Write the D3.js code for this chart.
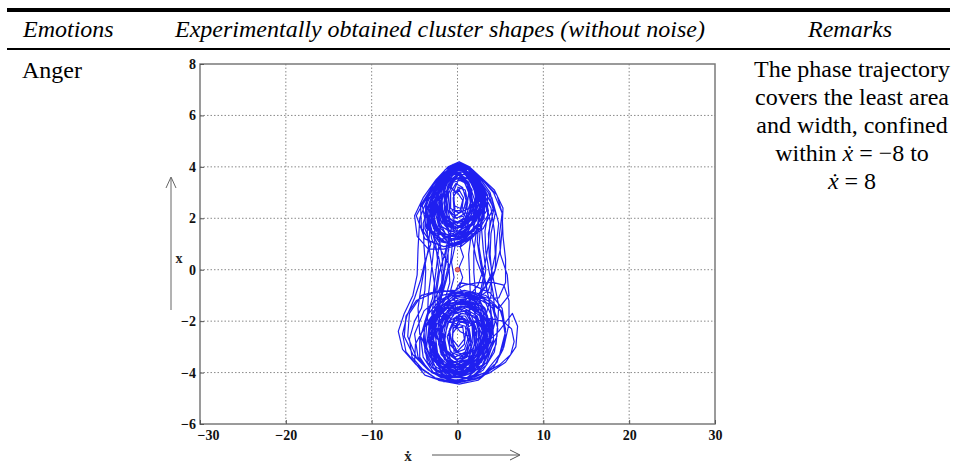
<!DOCTYPE html>
<html>
<head>
<meta charset="utf-8">
<script src="https://cdn.jsdelivr.net/npm/d3@7"></script>
<style>
  html, body { margin: 0; padding: 0; background: #ffffff; }
  svg { display: block; }
</style>
</head>
<body>
<svg id="chart" width="957" height="465"></svg>
<script>
// Table headings and row text
const headings = ["Emotions", "Experimentally obtained cluster shapes (without noise)", "Remarks"];
const emotion = "Anger";
const remarkLines = ["The phase trajectory", "covers the least area", "and width, confined"];

// Axis ticks
const xTicks = [-30, -20, -10, 0, 10, 20, 30];
const yTicks = [-6, -4, -2, 0, 2, 4, 6, 8];

// Equilibrium point marked at the origin
const centre = [0, 0];

// Phase trajectory, [xdot, x] pairs, drawn as one continuous path in run order
const run1 = [
  [0.1,1.5],[1.8,2.0],[2.4,2.8],[1.6,3.6],[0.0,3.95],[-1.7,3.5],[-2.4,2.6],[-1.5,1.8],
  [0.2,1.4],[2.1,1.9],[2.8,2.7],[1.8,3.6],[0.2,4.05],[-1.7,3.6],[-2.8,2.6],[-1.9,1.7],
  [0.3,1.2],[2.6,1.7],[3.3,2.6],[2.1,3.5],[0.1,4.1],[-2.0,3.6],[-3.3,2.5],[-2.6,1.5],
  [-2.8,0.7],[-3.1,-0.2],[-3.4,-1.0],[-3.5,-1.9],[-2.9,-2.9],[-1.5,-3.7],[0.2,-4.05],
  [2.3,-3.6],[3.4,-2.7],[3.0,-1.8],[1.3,-1.3],[-0.9,-1.4],[-2.7,-2.0],[-3.3,-2.9],[-2.2,-3.7],
  [0.1,-4.0],[2.5,-3.7],[3.7,-2.6],[3.3,-1.6],[1.5,-1.1],[-1.0,-1.2],[-3.0,-1.9],[-3.7,-3.0],[-2.4,-3.9],
  [0.3,-4.2],[2.8,-3.8],[4.2,-2.7],[3.9,-1.6],
  [3.4,-0.7],[2.9,0.1],[2.5,0.9],[2.7,1.8]
];
const run2 = [
  [3.1,2.7],[1.9,3.6],[0.1,4.1],[-1.8,3.6],[-3.0,2.6],[-2.1,1.7],
  [0.0,1.4],[1.5,2.0],[2.0,2.7],[1.3,3.4],[-0.1,3.8],[-1.4,3.4],[-2.0,2.6],[-1.2,1.9],
  [0.2,1.7],[1.6,2.1],[2.2,2.9],[1.4,3.6],[0.0,4.0],[-1.4,3.6],[-2.3,2.8],[-1.6,2.0],
  [0.0,1.6],[2.0,2.0],[2.7,2.9],[1.5,3.7],[0.1,4.1],[-1.5,3.7],[-3.1,2.8],[-3.2,1.8],
  [-2.5,0.9],[-2.2,0.0],[-2.6,-0.9],[-3.0,-1.7],[-2.5,-2.6],[-1.1,-3.4],[0.5,-3.8],
  [2.1,-3.4],[3.0,-2.6],[2.6,-1.8],[1.1,-1.4],[-0.8,-1.5],[-2.4,-2.1],[-2.9,-2.9],[-1.9,-3.6],
  [0.0,-3.9],[2.2,-3.5],[3.2,-2.5],[2.8,-1.7],[1.0,-1.3],[-1.1,-1.4],[-2.8,-2.1],[-3.2,-3.1],[-2.0,-3.9],
  [0.4,-4.1],[3.0,-3.7],[4.6,-2.6],[4.8,-1.4],
  [4.2,-0.4],[3.7,0.5],[3.6,1.4],[4.2,2.3]
];
const run3 = [
  [3.6,3.0],[2.0,3.7],[0.3,4.15],[-1.8,3.7],[-3.6,2.7],[-3.4,1.6],
  [-1.5,1.1],[0.6,1.2],[2.4,1.8],[3.0,2.6],[2.0,3.4],[0.3,3.9],[-1.5,3.5],[-2.6,2.7],[-1.9,1.9],
  [-0.2,1.6],[1.7,2.0],[2.5,2.8],[1.5,3.6],[0.0,4.0],[-1.5,3.6],[-2.6,2.7],[-1.7,1.9],
  [0.1,1.5],[2.2,1.9],[3.0,2.7],[1.8,3.6],[0.0,4.05],[-1.8,3.5],[-3.0,2.4],[-2.2,1.4],
  [-1.8,0.5],[-1.6,-0.3],[-2.0,-1.1],[-2.6,-1.8],[-2.8,-2.7],[-2.0,-3.6],[-0.3,-4.1],
  [1.9,-3.8],[3.2,-3.0],[3.1,-2.0],[1.8,-1.3],[-0.3,-1.1],[-2.3,-1.6],[-3.4,-2.5],[-3.0,-3.4],[-1.4,-4.0],
  [0.6,-4.05],[2.6,-3.6],[3.5,-2.7],[3.0,-1.8],[1.2,-1.4],[-0.9,-1.6],[-2.4,-2.3],[-2.6,-3.1],[-1.5,-3.7],
  [0.3,-3.8],[1.9,-3.4],[2.6,-2.6],[2.1,-1.9],[0.7,-1.6],[-1.0,-1.8],[-2.1,-2.5],[-1.9,-3.3],[-0.6,-3.7],
  [1.5,-3.7],[3.0,-3.2],[4.0,-2.4],[3.8,-1.3],
  [3.1,-0.4],[2.2,0.4],[1.7,1.2],[2.0,2.0]
];
const run4 = [
  [2.6,2.8],[1.6,3.6],[0.0,4.0],[-1.9,3.6],[-3.5,2.9],[-4.8,2.1],[-3.8,1.2],
  [-1.6,0.9],[0.9,1.1],[3.0,1.6],[4.2,2.4],[2.8,3.3],[1.2,3.9],[-0.5,4.1],[-2.0,3.6],[-3.3,2.6],[-2.8,1.6],
  [-0.9,1.3],[1.4,1.6],[2.6,2.4],[2.0,3.3],[0.6,3.9],[-1.2,3.7],[-2.2,3.0],[-2.0,2.2],[-0.8,1.8],
  [0.8,1.9],[1.8,2.5],[1.5,3.2],[0.2,3.6],[-1.1,3.3],[-1.6,2.6],[-1.1,2.0],
  [0.4,1.8],[2.3,2.2],[3.1,3.0],[1.6,3.8],[0.3,4.15],[-1.4,3.8],[-3.2,3.0],[-4.4,2.0],
  [-4.6,0.8],[-4.7,-0.2],[-5.2,-1.0],[-6.2,-1.7],[-6.9,-2.4],[-6.4,-3.1],[-4.8,-3.7],[-2.6,-4.2],[0.0,-4.4],
  [2.6,-4.2],[4.6,-3.6],[5.6,-2.6],[5.1,-1.6],[3.3,-1.0],[0.8,-0.8],[-1.8,-1.0],[-3.9,-1.6],[-5.0,-2.5],[-4.6,-3.4],[-3.0,-4.0],
  [-0.5,-4.2],[1.8,-4.0],[3.4,-3.3],[3.9,-2.4],[3.2,-1.5],[1.4,-1.2],[-0.6,-1.3],[-2.4,-1.9],[-3.0,-2.8],[-2.3,-3.6],
  [-0.4,-3.9],[1.6,-3.6],[2.7,-2.8],[2.4,-2.0],[1.0,-1.6],[-0.7,-1.7],[-1.9,-2.4],[-1.8,-3.2],[-0.5,-3.6],
  [1.2,-3.5],[2.0,-2.9],[1.9,-2.2],[0.8,-1.9],[-0.4,-2.0],[-1.2,-2.6],[-0.8,-3.2],[0.6,-3.4],
  [2.4,-3.3],[3.8,-2.8],[4.4,-2.0],[4.2,-1.0],
  [3.7,-0.1],[3.3,0.7],[3.2,1.5],[3.6,2.3]
];
const run5 = [
  [2.9,3.2],[1.3,3.9],[0.0,4.1],[-1.5,3.7],[-2.7,2.9],[-2.2,2.0],[-0.9,1.5],
  [0.9,1.5],[2.3,2.0],[2.8,2.8],[1.8,3.5],[0.4,3.9],[-1.2,3.7],[-2.2,3.0],[-1.9,2.2],[-0.6,1.7],
  [1.1,1.7],[2.1,2.3],[2.1,3.1],[0.9,3.7],[-0.6,3.8],[-1.6,3.3],[-1.5,2.5],[-0.4,2.0],
  [1.0,2.1],[1.6,2.7],[1.1,3.4],[-0.2,3.6],[-1.1,3.1],[-0.9,2.4],[0.2,2.2],
  [1.4,2.4],[1.7,3.1],[0.8,3.6],[-0.4,3.5],
  [-1.5,3.4],[-2.6,2.7],[-3.2,1.7],
  [-3.4,0.8],[-3.9,0.0],[-4.3,-0.8],[-4.6,-1.5],[-4.4,-2.5],[-3.2,-3.4],[-1.3,-3.9],[0.7,-4.05],
  [2.8,-3.6],[3.8,-2.8],[3.6,-1.9],[2.1,-1.3],[0.0,-1.2],[-2.0,-1.6],[-3.3,-2.4],[-3.2,-3.3],[-1.9,-3.9],
  [0.0,-4.1],[2.0,-3.9],[3.3,-3.2],[3.5,-2.3],[2.4,-1.6],[0.4,-1.4],[-1.5,-1.7],[-2.6,-2.5],[-2.3,-3.3],[-0.9,-3.8],
  [0.9,-3.8],[2.3,-3.3],[2.8,-2.5],[2.0,-1.8],[0.5,-1.7],[-1.0,-2.0],[-1.7,-2.8],[-1.1,-3.5],[0.4,-3.7],
  [1.8,-3.4],[2.3,-2.7],[1.7,-2.1],[0.4,-2.0],[-0.6,-2.5],[-0.4,-3.2],[0.9,-3.3],
  [2.9,-3.0],[4.8,-2.4],[6.4,-1.7],[7.0,-2.2],[6.8,-3.0],[5.6,-3.6],[3.8,-4.0],[1.5,-4.3],[-0.8,-4.3],
  [-3.0,-4.0],[-4.8,-3.4],[-5.8,-2.6],[-5.6,-1.7],[-4.2,-1.0],[-2.0,-0.8],[0.5,-0.9],[2.8,-1.2],
  [4.8,-1.5],[6.0,-1.0],
  [5.8,-0.2],[5.0,0.6],[4.9,1.4],[5.2,2.2]
];
const run6 = [
  [4.6,2.9],[3.2,3.4],[1.7,3.8],[0.3,4.15],[-1.1,3.9],[-2.6,3.3],[-4.1,2.5],[-3.6,1.6],[-2.0,1.2],
  [0.0,1.2],[2.0,1.6],[3.4,2.3],[3.0,3.1],[1.8,3.7],[0.2,4.0],[-1.5,3.7],[-2.8,3.0],[-3.0,2.1],[-1.9,1.4],
  [-0.3,1.3],[1.6,1.7],[2.8,2.5],[2.3,3.3],[1.0,3.8],[-0.5,3.9],[-1.9,3.4],[-2.6,2.5],[-1.8,1.8],
  [-0.2,1.6],[1.4,2.0],[2.3,2.7],[1.8,3.4],[0.6,3.8],[-0.8,3.7],[-1.9,3.1],[-2.0,2.3],
  [-1.3,1.7],[-0.6,1.0],[-0.8,0.3],[-1.3,-0.4],[-1.9,-1.1],[-2.3,-1.9],[-2.1,-2.8],[-1.2,-3.6],[0.2,-4.0],
  [1.8,-3.9],[3.0,-3.3],[3.4,-2.4],[2.7,-1.6],[1.2,-1.1],[-0.7,-1.0],[-2.4,-1.4],[-3.6,-2.2],[-3.8,-3.1],[-2.8,-3.8],
  [-1.0,-4.2],[1.1,-4.2],[2.9,-3.7],[3.9,-2.9],[3.8,-2.0],[2.6,-1.4],[0.6,-1.2],[-1.4,-1.4],[-2.9,-2.1],[-3.3,-3.0],[-2.4,-3.7],
  [-0.6,-4.0],[1.3,-3.9],[2.6,-3.3],[3.0,-2.5],[2.3,-1.8],[0.8,-1.5],[-0.9,-1.7],[-2.0,-2.4],[-2.0,-3.2],[-0.9,-3.7],
  [0.7,-3.7],[2.0,-3.2],[2.3,-2.4],[1.4,-1.9],
  [1.5,-1.0],[1.4,-0.2],[1.3,0.6],[1.6,1.4],[2.3,2.1],[2.2,3.0],[1.2,3.7],[0.0,4.0]
];
const run7 = [
  [-1.2,3.6],[-2.4,2.9],[-2.3,2.0],[-1.4,1.4],[0.2,1.2],[1.9,1.5],[3.1,2.2],[3.0,3.0],[2.0,3.6],[0.5,4.0],[-0.9,3.9],[-2.3,3.3],[-3.4,2.4],[-3.1,1.5],
  [-2.0,0.8],[-1.0,0.2],[-0.9,-0.5],[-1.5,-1.2],[-2.5,-1.7],[-3.8,-2.2],[-4.9,-2.9],[-5.0,-3.6],[-3.8,-4.1],[-1.6,-4.35],[0.9,-4.35],[3.2,-4.0],[4.9,-3.3],[5.6,-2.4],[5.2,-1.5],[3.8,-0.9],[1.8,-0.6],
  [0.3,-0.5],[-0.4,-0.9],[-0.2,-1.6],[0.8,-2.0],[2.2,-2.0],[3.1,-2.4],[3.0,-3.0],[1.9,-3.5],[0.2,-3.6],[-1.4,-3.2],[-2.2,-2.5],[-1.8,-1.8],[-0.6,-1.5],
  [1.0,-1.4],[2.6,-1.7],[3.4,-2.5],[3.0,-3.4],[1.6,-3.9],[-0.3,-4.0],[-2.1,-3.6],[-3.0,-2.8],[-2.8,-2.0],[-1.7,-1.5],
  [0.1,-1.3],[2.0,-1.2],[3.6,-0.8],[4.4,0.0],[4.5,0.9],[4.8,1.8],[4.0,2.8],[2.5,3.5],[1.0,4.0],[-0.3,4.1],[-1.8,3.7],[-3.2,3.0],[-3.8,2.2],[-3.0,1.5],
  [-1.5,1.3],[0.3,1.4],[2.0,1.8],[2.7,2.6],[2.0,3.4],[0.6,3.8],[-1.0,3.7],[-1.9,3.0],[-1.7,2.2],[-0.6,1.8],
  [0.9,1.9],[1.8,2.6],[1.4,3.3],[0.1,3.5],[-0.5,3.0],[-0.3,2.4],
  [-0.5,1.6],[-0.3,0.9],[-0.7,0.3],[-0.4,-0.3],[-0.8,-0.8],[-1.2,-1.3],[-0.8,-2.0],[0.3,-2.4],[1.4,-2.6],[1.6,-3.1],[0.7,-3.4]
];
const run8 = [
  [-0.6,-3.0],[-0.9,-2.4],[-0.3,-1.9],[0.8,-1.9],[1.4,-2.5],[1.1,-3.2],[0.0,-3.5],[-1.2,-3.2],[-1.6,-2.5],[-1.2,-1.8],
  [0.0,-1.5],[1.4,-1.6],[2.2,-2.3],[2.1,-3.1],[1.0,-3.7],[-0.5,-3.8],[-1.9,-3.3],[-2.4,-2.5],[-2.0,-1.7],[-0.8,-1.3],[0.9,-1.2],
  [2.4,-0.6],[3.2,0.2],[3.6,1.0],[3.8,1.9],[3.2,2.8],[2.0,3.5],[0.7,3.9],[-0.7,3.9],[-1.8,3.4],[-2.8,2.6],[-2.6,1.8],[-1.6,1.3],
  [-0.2,1.2],[1.2,1.5],[2.1,2.1],[2.2,2.9],[1.4,3.5],[0.2,3.7],[-0.9,3.4],[-1.4,2.8],[-1.2,2.1],[-0.3,1.8],[0.7,2.0],[1.2,2.6],
  [0.9,3.1],[0.1,3.2],[-0.5,2.8],[-0.4,2.3],[0.3,2.3],[0.6,2.7],
  [0.0,3.0],[-0.9,3.2],[-1.8,2.9],[-2.3,2.2],[-2.0,1.5],[-1.0,1.0],[0.4,0.9],[1.9,1.3],[3.0,2.0],[3.3,2.9],[2.3,3.6],[1.0,4.0],
  [0.0,4.15],[-1.1,3.9],[-2.5,3.2],[-3.6,2.3],[-3.5,1.3],
  [-3.1,0.4],[-2.7,-0.5],[-2.6,-1.4],[-3.0,-2.3],[-2.6,-3.2],[-1.4,-3.8],[0.3,-4.0],[2.0,-3.7],[3.2,-3.0],[3.4,-2.1],[2.7,-1.4],
  [1.3,-1.0],[-0.4,-0.9],[-2.1,-1.2],[-3.6,-1.8],[-4.3,-2.6],[-4.0,-3.4],[-2.8,-4.0],[-1.0,-4.3],[1.1,-4.3],[3.0,-3.9],[4.3,-3.2],
  [4.7,-2.3],[4.1,-1.5],[2.8,-1.1],[1.1,-0.9],[-0.5,-1.1],[-1.6,-1.6],[-1.9,-2.4],[-1.4,-3.1],[-0.3,-3.4],[0.9,-3.2],[1.5,-2.6],
  [1.2,-2.0],[0.3,-1.8],[-0.5,-2.1],[-0.6,-2.7],[0.1,-3.0],[0.8,-2.7],[0.6,-2.2],[-0.2,-2.3]
];
const run9 = [
  [0.4,-1.6],[1.8,-1.2],[3.0,-0.8],[3.9,-0.2],[4.4,0.6],[4.3,1.5],[3.9,2.4],[2.7,3.2],[1.2,3.8],[-0.3,4.0],[-1.7,3.6],[-3.0,2.9],
  [-3.4,2.0],[-3.0,1.2],[-2.2,0.5],[-1.8,-0.2],[-1.9,-0.9],[-2.4,-1.5],[-3.4,-2.0],[-4.4,-2.6],[-4.4,-3.4],[-3.4,-3.9],[-1.9,-4.2],
  [0.0,-4.3],[1.9,-4.1],[3.4,-3.6],[4.2,-2.8],[4.1,-1.9],[3.3,-1.3],[1.9,-1.0],[0.2,-0.9],[-1.5,-1.1],[-2.8,-1.6],[-3.4,-2.4],
  [-3.1,-3.2],[-2.0,-3.8],[-0.5,-4.0],[1.1,-3.9],[2.5,-3.4],[3.1,-2.6],[2.8,-1.8],[1.8,-1.3],[0.4,-1.2],[-1.0,-1.5],[-2.0,-2.1],
  [-2.2,-2.9],[-1.5,-3.5],[-0.2,-3.7],[1.2,-3.5],[2.0,-2.9],[2.0,-2.2],[1.2,-1.7],
  [2.1,-0.9],[1.9,-0.1],[1.9,0.7],[2.2,1.5],[2.6,2.3],[2.2,3.1],[1.3,3.7],[0.1,4.0],[-1.2,3.8],[-2.2,3.2],[-2.7,2.4],[-2.2,1.7],
  [-1.1,1.3],[0.3,1.3],[1.6,1.7],[2.3,2.4],[1.9,3.2],[0.9,3.7],[-0.5,3.7],[-1.5,3.2],[-1.9,2.5],[-1.4,1.9],[-0.4,1.6],[0.8,1.7],
  [1.6,2.3],[1.5,3.0],[0.6,3.5],[-0.5,3.4],[-1.1,2.9],[-0.9,2.3],[-0.1,2.0],[0.9,2.2],[1.1,2.8],[0.5,3.2],[-0.3,3.0],
  [-1.1,3.4],[-2.2,3.1],[-3.3,2.6],[-4.0,1.8],[-3.9,0.9],
  [-3.7,0.0],[-3.8,-0.8],[-4.2,-1.5],[-5.0,-2.0],[-5.6,-2.7],[-5.3,-3.4],[-4.0,-3.9],[-2.2,-4.3],[0.2,-4.45],[2.4,-4.3],[4.2,-3.8],
  [5.4,-3.0],[6.0,-2.1],[6.0,-1.2],[5.4,-0.6],[4.2,-0.5],[2.4,-0.5],[0.8,-0.6],[-0.8,-0.9],[-2.3,-1.4],[-3.3,-2.1],[-3.6,-3.0],
  [-2.8,-3.7],[-1.2,-4.1],[0.6,-4.1],[2.3,-3.8],[3.5,-3.1],[3.8,-2.2],[3.2,-1.5],[2.0,-1.1]
];
const run10 = [
  [3.4,-0.6],[4.4,0.0],[5.0,0.8],[5.2,1.6],[5.3,2.4],[4.3,3.1],[2.7,3.6],[1.4,4.0],[0.2,4.2],[-1.1,4.0],[-2.5,3.5],[-4.0,2.8],
  [-5.0,2.1],[-4.7,1.3],[-3.4,0.8],[-1.6,0.8],[0.4,1.0],[2.2,1.4],[3.5,2.1],[3.5,2.9],[2.4,3.6],[1.1,4.0],[0.0,4.1],[-1.3,3.8],
  [-2.7,3.1],[-3.6,2.3],[-3.3,1.6],[-2.2,1.1],[-0.7,1.0],[0.9,1.2],[2.3,1.7],[3.0,2.5],[2.5,3.3],[1.3,3.8],[-0.1,3.9],[-1.3,3.6],
  [-2.5,2.9],[-2.8,2.1],[-2.3,1.5],[-1.2,1.1],
  [-1.4,0.4],[-1.6,-0.3],[-2.3,-0.9],[-3.2,-1.5],[-3.9,-2.3],[-3.8,-3.2],[-3.0,-3.8],[-1.6,-4.1],[0.1,-4.2],[1.8,-4.0],[3.1,-3.4],
  [3.7,-2.6],[3.5,-1.8],[2.6,-1.2],[1.2,-1.0],[-0.4,-1.0],[-1.8,-1.4],[-2.8,-2.0],[-3.1,-2.8],[-2.6,-3.5],[-1.4,-3.9],[0.1,-4.0],
  [1.6,-3.8],[2.7,-3.2],[3.1,-2.4],[2.6,-1.7],[1.5,-1.3],[0.1,-1.3],[-1.2,-1.6],[-2.0,-2.3],[-2.0,-3.0],[-1.3,-3.5],[-0.1,-3.6],
  [1.1,-3.4],[1.8,-2.8],[1.7,-2.2],[0.9,-1.8],[-0.1,-1.8],[-0.9,-2.3],[-0.9,-2.9],[-0.1,-3.2],[0.8,-2.9],[1.0,-2.3],
  [2.2,-2.0],[3.8,-1.9],[5.3,-2.0],[6.3,-2.3],[6.6,-2.8],[6.2,-3.3],[4.9,-3.7],[3.3,-4.0],[1.2,-4.2],[-1.2,-4.2],[-3.4,-3.9],
  [-5.2,-3.3],[-6.2,-2.6],[-6.0,-1.8],[-4.8,-1.2],[-2.8,-0.9],[-0.6,-0.8],[1.6,-0.9],[3.4,-1.1],[4.8,-1.1],[5.6,-0.5],[5.6,0.4],
  [5.3,1.3],[5.2,2.2],[4.2,3.0],[2.6,3.6],[1.2,4.0],[-0.1,4.15],[-1.4,3.9],[-2.8,3.3],[-4.3,2.5],[-4.2,1.6],[-3.2,1.1],[-1.6,0.9],
  [0.2,1.0],[1.9,1.4],[3.1,2.0],[3.2,2.8],[2.3,3.5],[1.2,3.9],[-0.2,4.0],[-1.4,3.7],[-2.7,3.0],[-3.1,2.2],[-2.5,1.6],[-1.4,1.3],
  [0.0,1.3],[1.3,1.6],[2.2,2.2],[2.2,3.0],[1.5,3.6],[0.4,3.9],[-0.8,3.8],[-1.7,3.3],[-2.2,2.6],[-1.8,2.0],[-0.9,1.7],[0.3,1.7],
  [1.3,2.1],[1.7,2.8],[1.2,3.4],[0.2,3.7],[-0.8,3.5],[-1.3,2.9],[-1.1,2.3],[-0.3,2.1],
  [-0.9,1.4],[-1.5,0.6],[-2.1,-0.1],[-2.4,-0.8],[-2.3,-1.6],[-1.8,-2.4],[-1.2,-3.2]
];
const run11 = [
  [-0.2,-3.9],[1.3,-3.8],[2.5,-3.2],[2.9,-2.3],[2.4,-1.5],
  [2.9,-0.8],[3.3,0.0],[3.0,0.8],[2.8,1.6],[3.0,2.4],[2.2,3.3],[0.9,3.9],[-0.5,4.0],[-1.7,3.6],[-2.9,2.8],[-2.9,1.9],[-2.1,1.2],
  [-2.3,0.5],[-2.6,-0.3],[-2.9,-1.1],[-3.6,-1.8],[-4.0,-2.7],[-3.5,-3.6],[-2.1,-4.1],[-0.3,-4.3],[1.6,-4.2],[3.4,-3.7],[4.5,-2.9],
  [4.7,-2.0],[4.0,-1.3],[2.6,-1.0],[1.0,-1.1],
  [0.2,-0.7],[0.6,-0.3],[0.2,0.1],[0.7,0.5],[0.3,0.9],[1.0,1.3],[1.8,1.9],[2.0,2.7],[1.3,3.4],[0.0,3.7],[-1.2,3.4],[-1.8,2.7],
  [-1.6,2.0],[-0.9,1.5],
  [-1.1,0.8],[-1.1,0.1],[-1.6,-0.6],[-2.0,-1.3],[-2.7,-1.9],[-3.0,-2.7],[-2.6,-3.4],[-1.6,-3.9],[-0.1,-4.1],[1.5,-3.9],[2.8,-3.4],
  [3.5,-2.6],[3.3,-1.8],
  [3.9,-1.0],[4.0,-0.2],[3.8,0.6],[3.9,1.4],[4.4,2.2],[3.8,3.0],[2.5,3.6],[1.2,4.0],[0.1,4.15],[-1.1,3.9],[-2.4,3.3],[-3.7,2.5],
  [-3.8,1.6],[-3.1,1.0],
  [-3.8,0.3],[-4.3,-0.4],[-5.0,-1.1],[-5.9,-1.8],[-6.4,-2.5],[-6.0,-3.2],[-4.5,-3.8],[-2.4,-4.25],[0.0,-4.4],[2.3,-4.25],[4.2,-3.8],
  [5.3,-3.1],[5.6,-2.3],[5.0,-1.6],[3.6,-1.2],[1.7,-1.0],[-0.2,-1.1],[-1.9,-1.4],[-3.0,-2.0],[-3.4,-2.8],[-2.9,-3.5],[-1.6,-3.9],
  [0.0,-3.9],[1.5,-3.6],[2.4,-2.9],[2.5,-2.1],[1.8,-1.5],
  [2.6,-1.0],[3.0,-0.3],[2.6,0.4],[2.3,1.1],[2.5,1.9],[2.8,2.7],[1.9,3.5],[0.7,4.0],[-0.7,4.0],[-1.8,3.5],[-3.1,2.7],[-3.0,1.8],
  [-2.3,1.2],[-1.0,1.0],[0.5,1.1],[1.7,1.5],[2.4,2.2]
];
const run12 = [
  [0.6,2.2],[1.0,2.7],[0.6,3.2],[-0.2,3.35],[-0.8,3.0],[-0.8,2.4],[-0.2,2.1],[0.5,2.3],[0.7,2.8],[0.2,3.1],[-0.4,2.9],
  [-0.4,2.5],[0.2,2.4],[1.1,2.4],[1.3,3.0],[0.7,3.5],[-0.3,3.6],[-1.1,3.2],[-1.3,2.6],[-0.9,2.0],[0.0,1.8],[0.9,2.0],
  [1.5,2.6],[1.2,3.3],[0.3,3.8],[-0.8,3.7],[-1.5,3.1],[-1.5,2.3],[-0.7,1.7],
  [-0.9,1.0],[-1.3,0.3],[-1.8,-0.4],[-2.2,-1.1],[-2.0,-1.8],[-1.2,-2.0],
  [0.9,-2.2],[1.2,-2.7],[0.8,-3.1],[0.0,-3.2],[-0.6,-2.8],[-0.5,-2.3],[0.2,-2.0],[1.0,-2.1],[1.5,-2.8],[1.0,-3.4],
  [-0.1,-3.5],[-0.9,-3.1],[-1.0,-2.4],[-0.4,-1.9],[0.5,-1.8],[1.3,-2.2],[1.7,-2.9],[1.2,-3.6],[0.0,-3.8],[-1.1,-3.5],
  [-1.5,-2.8],[-1.2,-2.1],[-0.3,-1.7],[0.8,-1.6],[1.7,-2.1],[2.0,-2.8],[1.6,-3.5],[0.6,-3.9],[-0.7,-3.9],[-1.6,-3.4],
  [-1.9,-2.6],[-1.4,-1.9],[-0.4,-1.5],[0.6,-1.4]
];
const runs = [run1, run2, run3, run4, run5, run6, run7, run8, run9, run10, run11, run12];

const svg = d3.select("#chart");
const serif = "'Liberation Serif', 'Times New Roman', serif";
const textSize = 24;

// Table rules
svg.append("rect").attr("x", 7).attr("y", 8).attr("width", 943).attr("height", 4).attr("fill", "#000");
svg.append("rect").attr("x", 7).attr("y", 48).attr("width", 943).attr("height", 2).attr("fill", "#000");

// Column headings
const headX = [23, 175, 850];
const headAnchor = ["start", "start", "middle"];
svg.selectAll("text.head").data(headings).join("text")
  .attr("class", "head")
  .attr("x", (d, i) => headX[i])
  .attr("y", 37)
  .attr("text-anchor", (d, i) => headAnchor[i])
  .attr("font-family", serif).attr("font-style", "italic").attr("font-size", textSize)
  .attr("fill", "#000")
  .text(d => d);

svg.append("text").attr("x", 22).attr("y", 78)
  .attr("font-family", serif).attr("font-size", textSize).attr("fill", "#000")
  .text(emotion);

// Remarks column
const remarkX = 852;
svg.selectAll("text.remark").data(remarkLines).join("text")
  .attr("class", "remark")
  .attr("x", remarkX).attr("y", (d, i) => 77 + i * 28)
  .attr("text-anchor", "middle")
  .attr("font-family", serif).attr("font-size", textSize).attr("fill", "#000")
  .text(d => d);

const eq1 = svg.append("text").attr("x", remarkX).attr("y", 161)
  .attr("text-anchor", "middle").attr("font-family", serif).attr("font-size", textSize).attr("fill", "#000");
eq1.append("tspan").text("within  ");
eq1.append("tspan").attr("font-style", "italic").text("x\u0307");
eq1.append("tspan").text(" = \u22128  to");

const eq2 = svg.append("text").attr("x", remarkX).attr("y", 189)
  .attr("text-anchor", "middle").attr("font-family", serif).attr("font-size", textSize).attr("fill", "#000");
eq2.append("tspan").attr("font-style", "italic").text("x\u0307");
eq2.append("tspan").text(" = 8");

// Phase-plane axes
const plotLeft = 200, plotRight = 715, plotTop = 64, plotBottom = 424;
const x = d3.scaleLinear().domain([-30, 30]).range([plotLeft, plotRight]);
const y = d3.scaleLinear().domain([-6, 8]).range([plotBottom, plotTop]);

const plot = svg.append("g");

// Dotted grid
plot.selectAll("line.gx").data(xTicks.slice(1, -1)).join("line")
  .attr("x1", d => x(d)).attr("x2", d => x(d)).attr("y1", plotTop).attr("y2", plotBottom)
  .attr("stroke", "#8a8a8a").attr("stroke-width", 1).attr("stroke-dasharray", "1.5,2");
plot.selectAll("line.gy").data(yTicks.slice(1, -1)).join("line")
  .attr("x1", plotLeft).attr("x2", plotRight).attr("y1", d => y(d)).attr("y2", d => y(d))
  .attr("stroke", "#8a8a8a").attr("stroke-width", 1).attr("stroke-dasharray", "1.5,2");

// Trajectory
const line = d3.line().x(d => x(d[0])).y(d => y(d[1]));
plot.append("path")
  .datum(runs.flat())
  .attr("d", line)
  .attr("fill", "none")
  .attr("stroke", "#1f1ff0")
  .attr("stroke-width", 1.2)
  .attr("stroke-linejoin", "round");

// Equilibrium marker
plot.append("circle")
  .attr("cx", x(centre[0])).attr("cy", y(centre[1])).attr("r", 2.3)
  .attr("fill", "#e87070").attr("stroke", "#c83030").attr("stroke-width", 0.8);

// Axis box
plot.append("rect").attr("x", plotLeft).attr("y", plotTop)
  .attr("width", plotRight - plotLeft).attr("height", plotBottom - plotTop)
  .attr("fill", "none").attr("stroke", "#7a7a7a").attr("stroke-width", 1.5);

// Tick labels via axes
const xAxis = svg.append("g").attr("transform", `translate(0,${plotBottom})`)
  .call(d3.axisBottom(x).tickValues(xTicks).tickSize(-4).tickPadding(6).tickFormat(d3.format("d")));
const yAxis = svg.append("g").attr("transform", `translate(${plotLeft},0)`)
  .call(d3.axisLeft(y).tickValues(yTicks).tickSize(-4).tickPadding(4).tickFormat(d3.format("d")));
[xAxis, yAxis].forEach(g => {
  g.select(".domain").remove();
  g.selectAll(".tick line").attr("stroke", "#555");
  g.selectAll(".tick text")
    .attr("font-family", serif).attr("font-weight", "bold").attr("font-size", 14)
    .attr("fill", "#111");
});
// first x label sits just inside the corner, clear of the y labels
xAxis.selectAll(".tick text").filter(d => d === xTicks[0]).attr("dx", 8);

// Axis names with direction arrows
svg.append("text").attr("x", 408).attr("y", 461).attr("text-anchor", "middle")
  .attr("font-family", serif).attr("font-weight", "bold").attr("font-size", 15).attr("fill", "#222")
  .text("x\u0307");
svg.append("line").attr("x1", 432).attr("x2", 519).attr("y1", 455).attr("y2", 455)
  .attr("stroke", "#555").attr("stroke-width", 1);
svg.append("path").attr("d", "M510,450 L520,455 L510,460").attr("fill", "none")
  .attr("stroke", "#555").attr("stroke-width", 1);

svg.append("text").attr("x", 179).attr("y", 263).attr("text-anchor", "middle")
  .attr("font-family", serif).attr("font-weight", "bold").attr("font-size", 14).attr("fill", "#222")
  .text("x");
svg.append("line").attr("x1", 171).attr("x2", 171).attr("y1", 310).attr("y2", 178)
  .attr("stroke", "#666").attr("stroke-width", 1);
svg.append("path").attr("d", "M166,188 L171,177 L176,188").attr("fill", "none")
  .attr("stroke", "#666").attr("stroke-width", 1);
</script>
</body>
</html>
